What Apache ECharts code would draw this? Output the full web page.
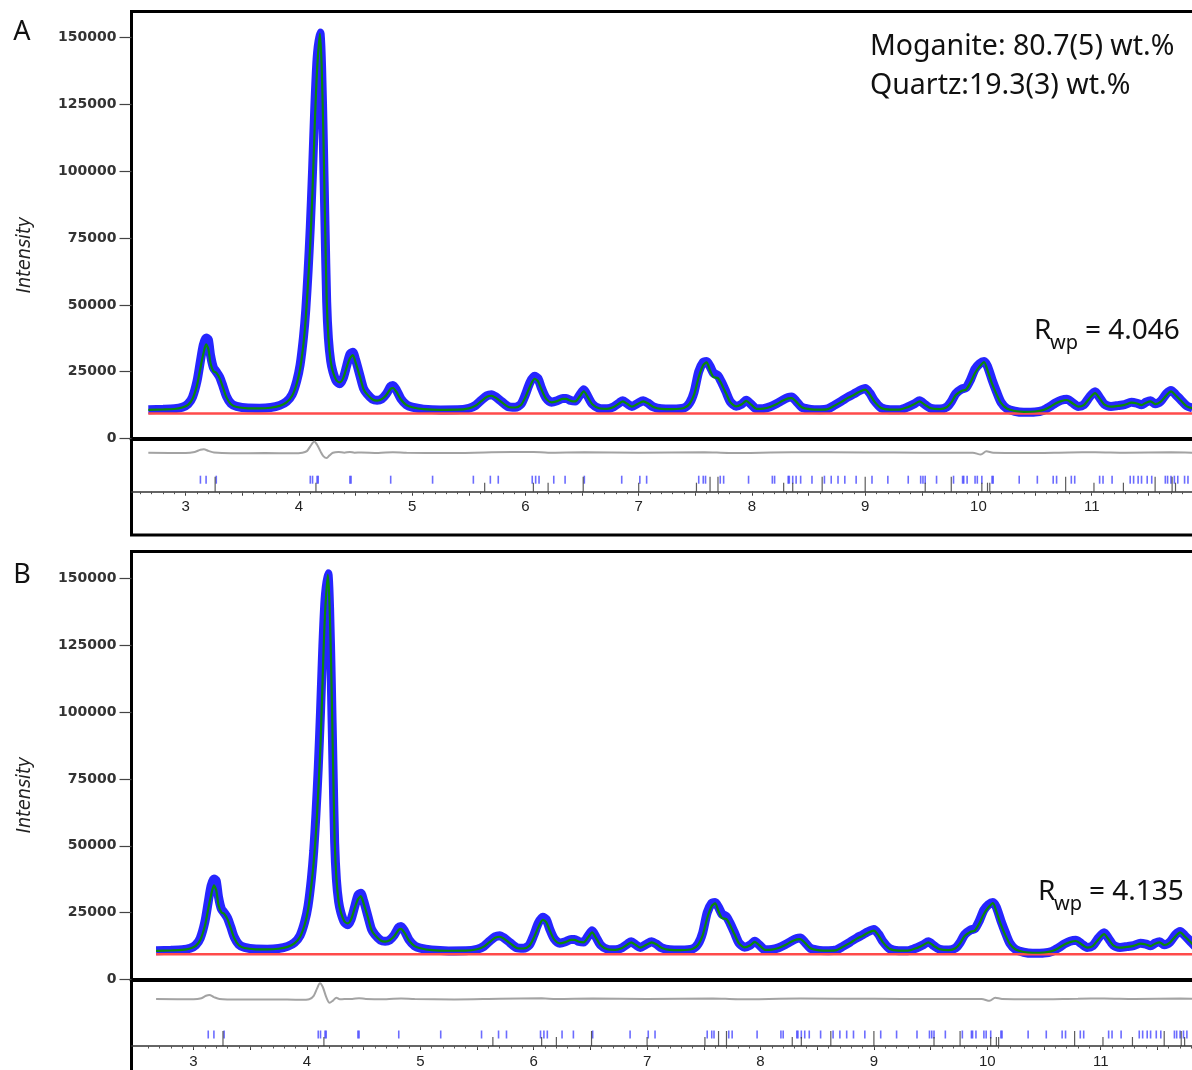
<!DOCTYPE html>
<html><head><meta charset="utf-8">
<script src="https://cdn.jsdelivr.net/npm/echarts@6/dist/echarts.min.js"></script>
<style>html,body{margin:0;padding:0;background:#fff}#c{width:1192px;height:1070px}</style>
</head><body><div id="c"></div>
<script>
// ---------------- DATA ----------------
const theta = [
  2.67, 2.80, 2.90, 2.97, 3.02, 3.06, 3.10, 3.13, 3.155, 3.18,
  3.20, 3.22, 3.245, 3.27, 3.30, 3.33, 3.36, 3.40, 3.45, 3.55,
  3.65, 3.75, 3.83, 3.89, 3.94, 3.98, 4.01, 4.04, 4.06, 4.08,
  4.10, 4.12, 4.14, 4.16, 4.185, 4.20, 4.215, 4.23, 4.245, 4.26,
  4.28, 4.30, 4.33, 4.36, 4.39, 4.42, 4.45, 4.475, 4.50, 4.54,
  4.57, 4.60, 4.65, 4.69, 4.73, 4.77, 4.81, 4.83, 4.86, 4.90,
  4.95, 5.00, 5.10, 5.25, 5.40, 5.50, 5.56, 5.61, 5.66, 5.70,
  5.74, 5.79, 5.85, 5.91, 5.96, 6.00, 6.04, 6.08, 6.11, 6.14,
  6.18, 6.23, 6.28, 6.33, 6.36, 6.40, 6.44, 6.48, 6.515, 6.55,
  6.59, 6.65, 6.72, 6.78, 6.83, 6.86, 6.90, 6.94, 6.99, 7.04,
  7.08, 7.13, 7.20, 7.30, 7.40, 7.45, 7.49, 7.53, 7.57, 7.60,
  7.63, 7.66, 7.70, 7.73, 7.77, 7.81, 7.86, 7.91, 7.95, 7.99,
  8.04, 8.10, 8.16, 8.22, 8.27, 8.32, 8.35, 8.39, 8.44, 8.52,
  8.60, 8.67, 8.73, 8.79, 8.85, 8.90, 8.94, 9.00, 9.04, 9.08,
  9.14, 9.22, 9.30, 9.38, 9.44, 9.48, 9.53, 9.58, 9.66, 9.72,
  9.76, 9.80, 9.85, 9.89, 9.93, 9.97, 10.01, 10.05, 10.08, 10.12,
  10.16, 10.20, 10.25, 10.32, 10.40, 10.50, 10.57, 10.63, 10.68, 10.73,
  10.78, 10.83, 10.88, 10.93, 10.98, 11.03, 11.07, 11.11, 11.17, 11.23,
  11.29, 11.35, 11.40, 11.44, 11.48, 11.52, 11.56, 11.61, 11.66, 11.70,
  11.74, 11.79, 11.84, 11.89
];
const observed = [
  10800, 10950, 11150, 11700, 12900, 15500, 21500, 29000, 35000, 37600,
  37000, 31000, 26500, 25000, 23000, 19500, 15800, 13100, 12000, 11400,
  11350, 11600, 12400, 13800, 16500, 21500, 27500, 38000, 48000, 62000,
  79000, 100000, 124000, 142000, 151800, 139000, 112000, 80000, 51000, 37500,
  29000, 25000, 21500, 20500, 22500, 27000, 31500, 32300, 29500, 23300,
  18800, 16800, 14700, 14300, 14800, 16600, 19500, 19800, 18200, 14900,
  12600, 11700, 11000, 10700, 10750, 11300, 12400, 14300, 16000, 16400,
  15500, 13800, 11900, 11700, 12800, 16500, 21000, 23300, 22500, 19000,
  15300, 13600, 14100, 15000, 15000, 14200, 14000, 16300, 18200, 15800,
  12900, 11300, 11100, 11900, 13400, 14100, 13000, 12000, 13100, 14100,
  13300, 11800, 11100, 11000, 11400, 13300, 17500, 25000, 28500, 28800,
  27000, 24500, 23500, 21200, 17500, 13700, 12100, 12900, 14300, 12900,
  11100, 11200, 11900, 13100, 14300, 15300, 15500, 14000, 11700, 10900,
  10800, 11100, 12500, 14000, 15600, 16700, 17700, 18700, 17000, 14200,
  11500, 10800, 10800, 11900, 13100, 14100, 12600, 11300, 11000, 11800,
  13800, 16800, 18500, 19000, 22000, 26000, 28000, 28800, 27000, 22000,
  17500, 13500, 11200, 10200, 9800, 9900, 10500, 11900, 13300, 14300,
  14700, 13400, 12000, 12600, 15500, 17500, 15300, 12900, 12000, 12300,
  12700, 13600, 13200, 12600, 13600, 14100, 13000, 14000, 16800, 18000,
  16500, 14300, 12200, 11400
];
const calcA = [
  10700, 10850, 11050, 11600, 12600, 14800, 20000, 26500, 31500, 35200,
  33500, 28000, 25200, 24600, 22500, 19000, 15400, 12800, 11800, 11300,
  11250, 11500, 12200, 13500, 16000, 20500, 26000, 35500, 45000, 58000,
  73000, 93000, 118000, 138000, 151500, 140000, 115000, 82000, 52000, 38000,
  29000, 25000, 21800, 21000, 22500, 26500, 30000, 31200, 28500, 22900,
  18500, 16600, 14600, 14200, 14700, 16200, 18600, 18900, 17500, 14600,
  12500, 11700, 11000, 10750, 10800, 11300, 12300, 14000, 15600, 16000,
  15200, 13600, 11800, 11600, 12500, 15500, 19500, 22300, 21500, 18500,
  15000, 13500, 14000, 14800, 14800, 14100, 13900, 15800, 17600, 15500,
  12800, 11300, 11100, 11800, 13200, 13900, 12900, 11900, 12900, 13900,
  13200, 11800, 11100, 11000, 11400, 13000, 16500, 23000, 27500, 28500,
  25500, 23000, 22600, 20500, 17000, 13500, 12000, 12800, 14100, 12800,
  11100, 11200, 11800, 12900, 14100, 15000, 15100, 13800, 11700, 10900,
  10800, 11000, 12300, 13700, 15300, 16300, 17300, 18300, 16500, 13900,
  11400, 10800, 10800, 11800, 13000, 13900, 12500, 11300, 11000, 11700,
  13500, 16300, 17800, 18300, 21000, 24500, 27000, 28600, 25500, 20500,
  16500, 13200, 11200, 10300, 10000, 10100, 10600, 11800, 13100, 14000,
  14400, 13200, 11900, 12500, 15000, 17000, 15000, 12800, 11900, 12200,
  12600, 13400, 13100, 12500, 13400, 13900, 12900, 13800, 16200, 17600,
  16200, 14100, 12000, 11300
];
const calcB = [
  10700, 10850, 11050, 11600, 12600, 14800, 20000, 26500, 31500, 35200,
  33500, 28000, 25200, 24600, 22500, 19000, 15400, 12800, 11800, 11300,
  11250, 11500, 12200, 13500, 16000, 20500, 26000, 35500, 44000, 55000,
  70000, 88000, 114000, 137000, 151500, 140000, 115000, 82000, 52000, 38000,
  29000, 25000, 21800, 21000, 22500, 26500, 30000, 31200, 28500, 22900,
  18500, 16600, 14600, 14200, 14700, 16200, 18600, 18900, 17500, 14600,
  12500, 11700, 11000, 10750, 10800, 11300, 12300, 14000, 15600, 16000,
  15200, 13600, 11800, 11600, 12500, 15500, 19500, 22300, 21500, 18500,
  15000, 13500, 14000, 14800, 14800, 14100, 13900, 15800, 17600, 15500,
  12800, 11300, 11100, 11800, 13200, 13900, 12900, 11900, 12900, 13900,
  13200, 11800, 11100, 11000, 11400, 13000, 16500, 23000, 27500, 28500,
  25500, 23000, 22600, 20500, 17000, 13500, 12000, 12800, 14100, 12800,
  11100, 11200, 11800, 12900, 14100, 15000, 15100, 13800, 11700, 10900,
  10800, 11000, 12300, 13700, 15300, 16300, 17300, 18300, 16500, 13900,
  11400, 10800, 10800, 11800, 13000, 13900, 12500, 11300, 11000, 11700,
  13500, 16300, 17800, 18300, 21000, 24500, 27000, 28600, 25500, 20500,
  16500, 13200, 11200, 10300, 10000, 10100, 10600, 11800, 13100, 14000,
  14400, 13200, 11900, 12500, 15000, 17000, 15000, 12800, 11900, 12200,
  12600, 13400, 13100, 12500, 13400, 13900, 12900, 13800, 16200, 17600,
  16200, 14100, 12000, 11300
];
const backgroundTheta = [2.67, 7.0, 11.89];
const background = [9400, 9400, 9400];

const diffThetaA = [
  2.67, 3.00, 3.08, 3.13, 3.16, 3.20, 3.25, 3.40, 3.70, 3.95,
  4.03, 4.07, 4.10, 4.135, 4.16, 4.19, 4.215, 4.245, 4.27, 4.30,
  4.35, 4.40, 4.45, 4.49, 4.55, 4.70, 4.83, 4.95, 5.30, 5.70,
  6.07, 6.20, 6.52, 7.00, 7.58, 7.80, 8.35, 9.00, 9.50, 9.95,
  10.02, 10.07, 10.13, 10.40, 10.80, 11.03, 11.30, 11.70, 11.89
];
const diffA = [
  0, -100, 300, 1100, 1250, 700, 100, -200, -150, -200,
  0, 600, 2400, 4200, 3000, 500, -1300, -2000, -1000, 0,
  300, 0, 300, 0, 100, -100, 200, 0, -150, 150,
  300, 0, 150, 0, 200, -100, 150, 100, 0, 0,
  -700, 500, 0, -100, 100, 200, 0, 150, 0
];
const diffThetaB = [
  2.67, 3.00, 3.07, 3.11, 3.14, 3.18, 3.23, 3.40, 3.70, 3.95,
  4.02, 4.06, 4.09, 4.115, 4.14, 4.17, 4.20, 4.23, 4.26, 4.29,
  4.33, 4.40, 4.46, 4.52, 4.70, 4.83, 4.95, 5.30, 5.70, 6.07,
  6.20, 6.52, 7.00, 7.58, 7.80, 8.35, 9.00, 9.50, 9.95, 10.02,
  10.07, 10.13, 10.40, 10.80, 11.03, 11.30, 11.70, 11.89
];
const diffB = [
  0, -100, 300, 1200, 1500, 700, 0, -200, -150, -300,
  -100, 1200, 4000, 5900, 4500, 800, -1400, -600, 500, -100,
  0, 0, 300, 0, -100, 200, 0, -150, 100, 250,
  0, 150, 0, 200, -100, 150, 100, 0, 0, -700,
  500, 0, -100, 100, 200, 0, 150, 0
];

// reflection positions (2-theta)
const moganiteReflections = [
  3.13, 3.18, 3.27, 4.10, 4.12, 4.16, 4.17, 4.45, 4.46, 4.81,
  5.18, 5.54, 5.69, 5.76, 6.06, 6.09, 6.12, 6.25, 6.35, 6.52,
  6.85, 7.01, 7.07, 7.53, 7.57, 7.59, 7.72, 7.75, 7.97, 8.18,
  8.20, 8.32, 8.33, 8.36, 8.39, 8.43, 8.53, 8.64, 8.70, 8.76,
  8.82, 8.92, 9.06, 9.20, 9.38, 9.49, 9.51, 9.53, 9.63, 9.78,
  9.86, 9.87, 9.90, 9.97, 9.99, 10.03, 10.12, 10.13, 10.36, 10.52,
  10.66, 10.69, 10.82, 10.85, 11.07, 11.10, 11.18, 11.34, 11.37, 11.41,
  11.44, 11.49, 11.53, 11.65, 11.67, 11.70, 11.73, 11.76, 11.82, 11.85
];
const quartzStrong = [3.26, 6.51, 7.63, 7.70, 8.62, 9.00, 9.76, 10.77, 11.56, 11.71];
const quartzWeak = [4.15, 5.64, 6.07, 6.20, 7.00, 7.51, 8.28, 8.36, 9.53, 10.03, 10.08, 10.10, 11.02, 11.28, 11.74];

const xTickLabels = [3, 4, 5, 6, 7, 8, 9, 10, 11];
const yTickLabels = [0, 25000, 50000, 75000, 100000, 125000, 150000];

const phaseText = ['Moganite: 80.7(5) wt.%', 'Quartz:19.3(3) wt.%'];
const rwpValues = ['4.046', '4.135'];
const panelLetters = ['A', 'B'];

// ---------------- LAYOUT ----------------
const W = 1192, H = 1070;
const LEFT = 131.5;
const UNITS_PER_PX = 375;
const panels = [
  { top: 11.5, zeroY: 438.5, axisY: 491.7, resZeroY: 452.7, tickY: 479.7, frameBottom: 535,
    x3: 185.7, xUnit: 113.25, ymax: 159800, calc: calcA, dTheta: diffThetaA, diff: diffA,
    letterY: 32, nameY: 255, rwpX: 1034, rwpY: 331 },
  { top: 551.5, zeroY: 979.5, axisY: 1046, resZeroY: 999, tickY: 1034.5, frameBottom: 1100,
    x3: 193.5, xUnit: 113.4, ymax: 160100, calc: calcB, dTheta: diffThetaB, diff: diffB,
    letterY: 575, nameY: 795, rwpX: 1038, rwpY: 892 }
];

const pairs = (xs, ys) => xs.map((x, i) => [x, ys[i]]);
const halves = [], tenths = [];
for (let k = 26; k <= 119; k++) { tenths.push(+(k / 10).toFixed(1)); if (k % 5 === 0) halves.push(+(k / 10).toFixed(1)); }

const grids = [], xAxes = [], yAxes = [], series = [], graphics = [];
const AX_FONT = 'Liberation Sans, Arial, sans-serif';
const TXT_FONT = '"Noto Sans", sans-serif';

panels.forEach((p, pi) => {
  const xmin = 3 + (LEFT - p.x3) / p.xUnit;
  const xmax = 3 + (W - p.x3) / p.xUnit;
  const g0 = grids.length;
  grids.push({ left: LEFT, top: p.top, right: -30, bottom: H - p.frameBottom, show: true,
    borderColor: '#000', borderWidth: 3, backgroundColor: 'transparent', outerBoundsMode: 'none', containLabel: false });
  grids.push({ left: LEFT, top: p.top, right: 0, height: p.zeroY - p.top, outerBoundsMode: 'none', containLabel: false });
  grids.push({ left: LEFT, top: p.zeroY, right: 0, height: p.axisY - p.zeroY, outerBoundsMode: 'none', containLabel: false });

  const xi = xAxes.length, yi = yAxes.length;
  xAxes.push({ gridIndex: g0, type: 'value', show: false, min: 0, max: 1 });
  yAxes.push({ gridIndex: g0, type: 'value', show: false, min: 0, max: 1 });

  xAxes.push({ gridIndex: g0 + 1, type: 'value', min: xmin, max: xmax,
    axisLine: { show: true, onZero: false, lineStyle: { color: '#000', width: 4 } },
    axisTick: { show: false }, axisLabel: { show: false }, splitLine: { show: false } });
  yAxes.push({ gridIndex: g0 + 1, type: 'value', min: 0, max: p.ymax,
    axisLine: { show: false },
    axisTick: { show: true, inside: false, length: 12, customValues: yTickLabels, lineStyle: { color: '#444', width: 1.2 } },
    axisLabel: { show: true, customValues: yTickLabels, margin: 15, fontFamily: 'DejaVu Sans, sans-serif',
      fontWeight: 'bold', fontSize: 14, color: '#333', formatter: v => String(v) },
    splitLine: { show: false } });

  xAxes.push({ gridIndex: g0 + 2, type: 'value', min: xmin, max: xmax, position: 'bottom',
    axisLine: { show: true, onZero: false, lineStyle: { color: '#333', width: 1.5 } },
    axisTick: { show: true, inside: false, length: 4, customValues: halves, lineStyle: { color: '#333', width: 1 } },
    axisLabel: { show: true, customValues: xTickLabels, margin: 8, fontFamily: AX_FONT, fontSize: 15, color: '#222' },
    splitLine: { show: false } });
  xAxes.push({ gridIndex: g0 + 2, type: 'value', min: xmin, max: xmax, position: 'bottom',
    axisLine: { show: false, onZero: false },
    axisTick: { show: true, inside: false, length: 2.5, customValues: tenths, lineStyle: { color: '#555', width: 1 } },
    axisLabel: { show: false }, splitLine: { show: false } });
  const lowMax = (p.resZeroY - p.zeroY) * UNITS_PER_PX;
  const lowMin = -(p.axisY - p.resZeroY) * UNITS_PER_PX;
  yAxes.push({ gridIndex: g0 + 2, type: 'value', show: false, min: lowMin, max: lowMax });

  const upX = xi + 1, upY = yi + 1, loX = xi + 2, loY = yi + 2;
  series.push({ type: 'line', xAxisIndex: upX, yAxisIndex: upY, data: pairs(theta, observed),
    showSymbol: false, smooth: 0.25, lineStyle: { color: '#0000ff', width: 9, opacity: 0.85 }, z: 2, silent: true });
  series.push({ type: 'line', xAxisIndex: upX, yAxisIndex: upY, data: pairs(backgroundTheta, background),
    showSymbol: false, lineStyle: { color: '#ff4b4b', width: 2.5 }, z: 3, silent: true });
  series.push({ type: 'line', xAxisIndex: upX, yAxisIndex: upY, data: pairs(theta, p.calc),
    showSymbol: false, smooth: 0.25, lineStyle: { color: '#0a8a0a', width: 2.2 }, z: 4, silent: true });
  series.push({ type: 'line', xAxisIndex: loX, yAxisIndex: loY, data: pairs(p.dTheta, p.diff),
    showSymbol: false, smooth: 0.3, lineStyle: { color: '#a3a3a3', width: 2 }, z: 2, silent: true });
  const tickVal = -(p.tickY - p.resZeroY) * UNITS_PER_PX;
  series.push({ type: 'scatter', xAxisIndex: loX, yAxisIndex: loY,
    data: moganiteReflections.map(t => [t, tickVal]), symbol: 'rect', symbolSize: [1.6, 8],
    itemStyle: { color: 'rgba(40,40,255,0.85)' }, z: 3, silent: true });
  series.push({ type: 'scatter', xAxisIndex: loX, yAxisIndex: loY,
    data: quartzStrong.map(t => [t, lowMin + 7.5 * UNITS_PER_PX]), symbol: 'rect', symbolSize: [1.2, 15],
    itemStyle: { color: '#333' }, z: 3, silent: true });
  series.push({ type: 'scatter', xAxisIndex: loX, yAxisIndex: loY,
    data: quartzWeak.map(t => [t, lowMin + 4.5 * UNITS_PER_PX]), symbol: 'rect', symbolSize: [1.2, 9],
    itemStyle: { color: '#333' }, z: 3, silent: true });

  graphics.push({ type: 'text', x: 22, y: p.letterY, style: { text: panelLetters[pi], font: '27px ' + TXT_FONT,
    fill: '#111', align: 'center', verticalAlign: 'middle' } });
  graphics.push({ type: 'text', x: 25, y: p.nameY, rotation: Math.PI / 2, style: { text: 'Intensity',
    font: 'italic 19.5px "Liberation Sans Narrow", "DejaVu Sans Condensed", sans-serif', fill: '#222', align: 'center', verticalAlign: 'middle' } });
  graphics.push({ type: 'text', x: p.rwpX, y: p.rwpY, style: { text: 'R', font: '28px ' + TXT_FONT, fill: '#111', align: 'left', verticalAlign: 'middle' } });
  graphics.push({ type: 'text', x: p.rwpX + 16, y: p.rwpY + 12, style: { text: 'wp', font: '20px ' + TXT_FONT, fill: '#111', align: 'left', verticalAlign: 'middle' } });
  graphics.push({ type: 'text', x: p.rwpX + 51, y: p.rwpY, style: { text: '= ' + rwpValues[pi], font: '28px ' + TXT_FONT, fill: '#111', align: 'left', verticalAlign: 'middle' } });
});

graphics.push({ type: 'text', x: 870, y: 47, style: { text: phaseText[0], font: '28.5px ' + TXT_FONT, fill: '#111', align: 'left', verticalAlign: 'middle' } });
graphics.push({ type: 'text', x: 870, y: 86, style: { text: phaseText[1], font: '28.5px ' + TXT_FONT, fill: '#111', align: 'left', verticalAlign: 'middle' } });

const chart = echarts.init(document.getElementById('c'), null, { renderer: 'canvas', width: W, height: H });
chart.setOption({
  animation: false,
  backgroundColor: '#fff',
  grid: grids, xAxis: xAxes, yAxis: yAxes, series: series, graphic: graphics
});
</script>
</body></html>
